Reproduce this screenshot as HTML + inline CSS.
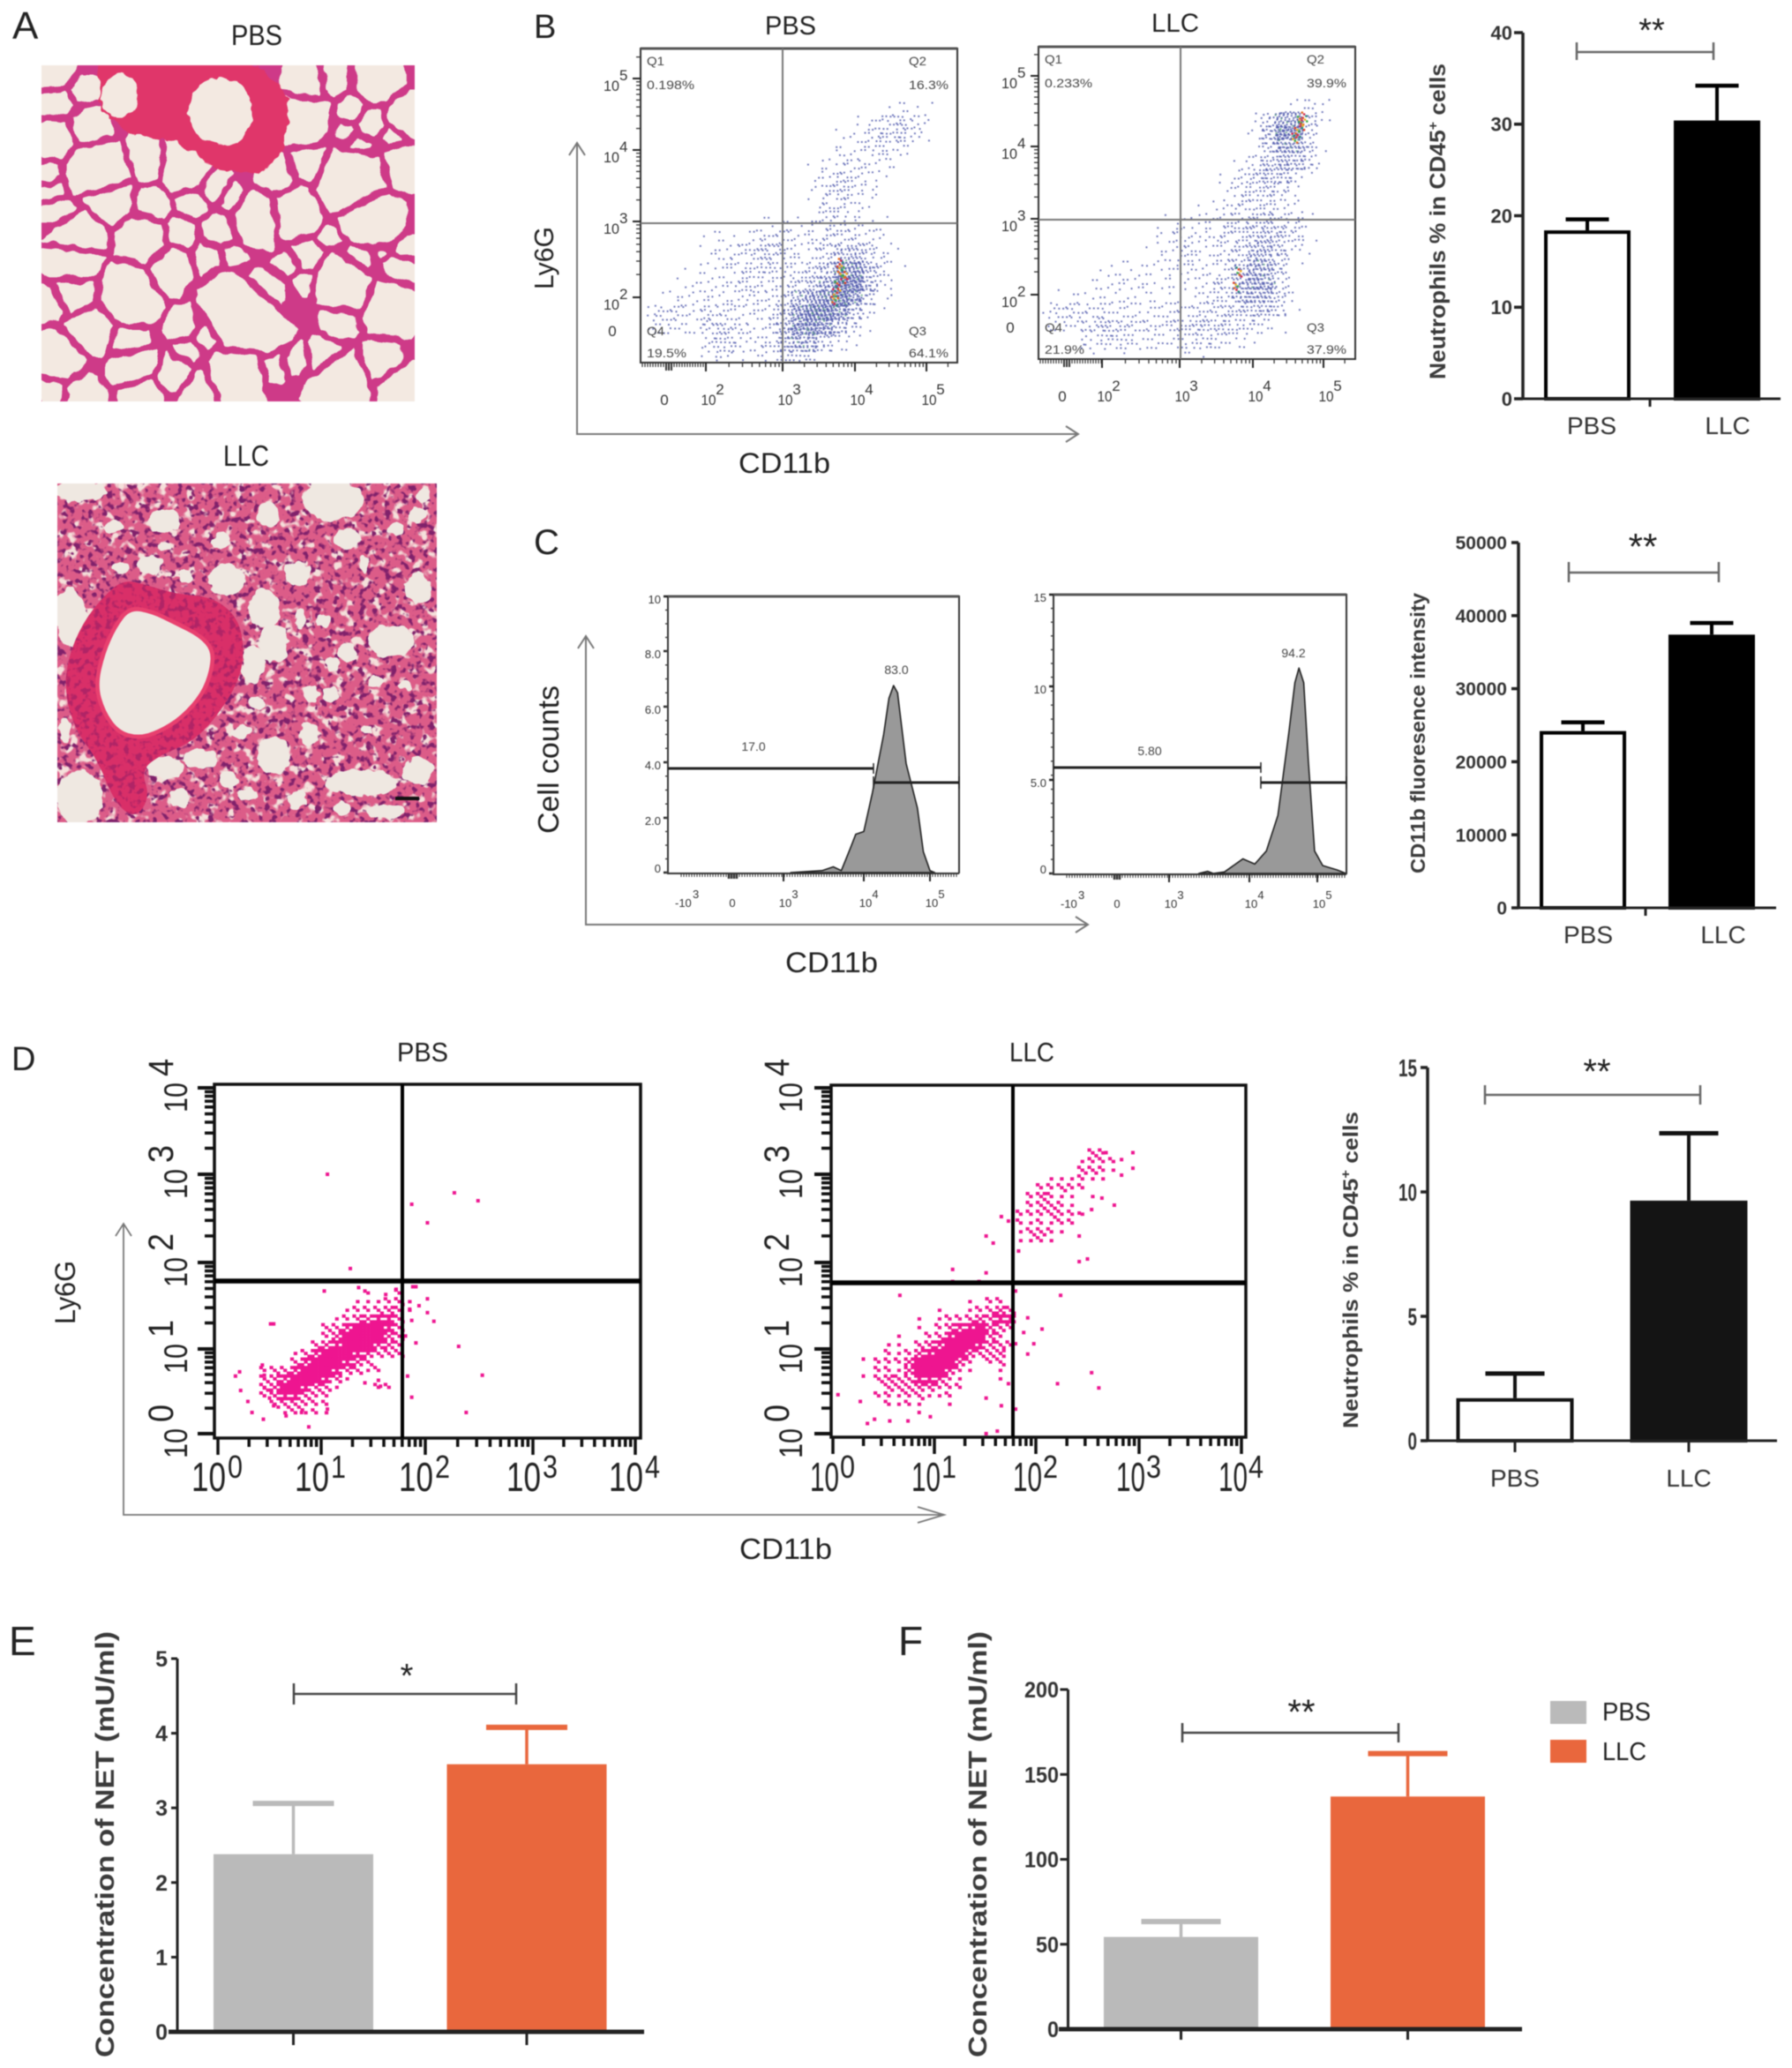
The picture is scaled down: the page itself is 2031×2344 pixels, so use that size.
<!DOCTYPE html>
<html lang="en">
<head>
<meta charset="utf-8">
<title>Neutrophil flow cytometry and NET concentration figure</title>
<style>
html,body{margin:0;padding:0;background:#fff;width:2031px;height:2344px;overflow:hidden}
svg{display:block;filter:blur(.55px)}
text{font-family:"Liberation Sans",sans-serif;fill:#222}
.axt{font-weight:700;fill:#3a3a3a}
</style>
</head>
<body>
<svg id="figure" xmlns="http://www.w3.org/2000/svg" width="2031" height="2344" viewBox="0 0 2031 2344">
<defs>
<filter id="rough" x="-5%" y="-5%" width="110%" height="110%" color-interpolation-filters="sRGB"><feTurbulence type="fractalNoise" baseFrequency="0.022" numOctaves="2" seed="4" result="n"/><feDisplacementMap in="SourceGraphic" in2="n" scale="26" xChannelSelector="R" yChannelSelector="G"/></filter>
<filter id="rough2" x="-5%" y="-5%" width="110%" height="110%" color-interpolation-filters="sRGB"><feTurbulence type="fractalNoise" baseFrequency="0.03" numOctaves="2" seed="9" result="n"/><feDisplacementMap in="SourceGraphic" in2="n" scale="30" xChannelSelector="R" yChannelSelector="G"/></filter>
<filter id="nuclei" x="0" y="0" width="100%" height="100%" color-interpolation-filters="sRGB"><feTurbulence type="fractalNoise" baseFrequency="0.14" numOctaves="2" seed="8"/><feColorMatrix values="0 0 0 0 .50  0 0 0 0 .13  0 0 0 0 .42  7 0 0 0 -3.75"/></filter>
<filter id="nuclei-wall" x="0" y="0" width="100%" height="100%" color-interpolation-filters="sRGB"><feTurbulence type="fractalNoise" baseFrequency="0.05" numOctaves="2" seed="13"/><feColorMatrix values="0 0 0 0 .58  0 0 0 0 .12  0 0 0 0 .40  7 0 0 0 -3.6"/></filter>
<filter id="specks" x="0" y="0" width="100%" height="100%" color-interpolation-filters="sRGB"><feTurbulence type="fractalNoise" baseFrequency="0.09" numOctaves="2" seed="21"/><feColorMatrix values="0 0 0 0 .96  0 0 0 0 .88  0 0 0 0 .86  0 7 0 0 -3.9"/></filter>
<clipPath id="clip-a1"><rect x="47" y="74" width="423" height="381"/></clipPath>
<clipPath id="clip-a2"><rect x="65" y="548" width="430" height="384"/></clipPath>
</defs>

<text x="14" y="44" font-size="44">A</text>
<text x="605" y="43" font-size="38">B</text>
<text x="605" y="628" font-size="40">C</text>
<text x="13" y="1213" font-size="38">D</text>
<text x="10" y="1876" font-size="46">E</text>
<text x="1018" y="1876" font-size="46">F</text>

<!-- Panel A -->
<text x="262" y="51" font-size="32" textLength="58" lengthAdjust="spacingAndGlyphs">PBS</text>
<text x="253" y="528" font-size="33" textLength="52" lengthAdjust="spacingAndGlyphs">LLC</text>
<g id="histology-pbs" clip-path="url(#clip-a1)">
  <rect x="47" y="74" width="423" height="381" fill="#ce3a88"/>
  <g id="pbs-inner" transform="translate(47 74) scale(.3828) translate(-122 -193)"></g>
</g>
<g id="histology-llc" clip-path="url(#clip-a2)">
  <rect x="65" y="548" width="430" height="384" fill="#dc5c88"/>
  <rect x="65" y="548" width="430" height="384" filter="url(#specks)"/>
  <rect x="65" y="548" width="430" height="384" filter="url(#nuclei)"/>
  <g id="llc-inner" transform="translate(60 540) scale(.33333)"></g>
  <rect x="448" y="903" width="27" height="4" fill="#111"/>
</g>

<!-- Panel B -->
<text x="867" y="39" font-size="30" textLength="58" lengthAdjust="spacingAndGlyphs">PBS</text>
<text x="1305" y="36" font-size="30" textLength="54" lengthAdjust="spacingAndGlyphs">LLC</text>
<g id="flow-b1"></g>
<g id="flow-b2"></g>
<path d="M654 162V492H1222M645 176L654 162L663 176M1208 483L1222 492L1208 501" fill="none" stroke="#777" stroke-width="2"/>
<text transform="translate(627 328) rotate(-90)" font-size="31" textLength="71" lengthAdjust="spacingAndGlyphs">Ly6G</text>
<text x="837" y="536" font-size="32" textLength="104" lengthAdjust="spacingAndGlyphs">CD11b</text>

<g id="bar-b"></g>
<path d="M1787 48V68M1787 59H1942M1942 48V68" fill="none" stroke="#666" stroke-width="2.5"/>
<text x="1872" y="47" font-size="38" text-anchor="middle">**</text>
<text class="axt" transform="translate(1638 430) rotate(-90)" font-size="25" textLength="358" lengthAdjust="spacingAndGlyphs">Neutrophils % in CD45<tspan dy="-9" font-size="15">+</tspan><tspan dy="9"> cells</tspan></text>

<!-- Panel C -->
<g id="hist-c1"></g>
<g id="hist-c2"></g>
<path d="M664 721V1048H1233M655 735L664 721L673 735M1219 1039L1233 1048L1219 1057" fill="none" stroke="#777" stroke-width="2"/>
<text transform="translate(633 945) rotate(-90)" font-size="33" textLength="168" lengthAdjust="spacingAndGlyphs">Cell counts</text>
<text x="890" y="1102" font-size="32" textLength="105" lengthAdjust="spacingAndGlyphs">CD11b</text>

<g id="bar-c"></g>
<path d="M1778 637V660M1778 649H1948M1948 637V660" fill="none" stroke="#666" stroke-width="2.5"/>
<text x="1862" y="634" font-size="42" text-anchor="middle">**</text>
<text class="axt" transform="translate(1615 990) rotate(-90)" font-size="23" textLength="318" lengthAdjust="spacingAndGlyphs">CD11b fluoresence intensity</text>

<!-- Panel D -->
<text x="450" y="1203" font-size="31" textLength="58" lengthAdjust="spacingAndGlyphs">PBS</text>
<text x="1144" y="1203" font-size="31" textLength="51" lengthAdjust="spacingAndGlyphs">LLC</text>
<g id="flow-d1"></g>
<g id="flow-d2"></g>
<path d="M140 1387V1717H1070M131 1401L140 1387L149 1401M1040 1708L1070 1717L1040 1726" fill="none" stroke="#777" stroke-width="1.8"/>
<text transform="translate(85 1501) rotate(-90)" font-size="32" textLength="72" lengthAdjust="spacingAndGlyphs">Ly6G</text>
<text x="838" y="1767" font-size="33" textLength="105" lengthAdjust="spacingAndGlyphs">CD11b</text>

<g id="bar-d"></g>
<path d="M1683 1230V1252M1683 1241H1927M1927 1230V1252" fill="none" stroke="#666" stroke-width="2.5"/>
<text x="1810" y="1228" font-size="40" text-anchor="middle">**</text>
<text class="axt" transform="translate(1539 1619) rotate(-90)" font-size="24" textLength="359" lengthAdjust="spacingAndGlyphs">Neutrophils % in CD45<tspan dy="-9" font-size="15">+</tspan><tspan dy="9"> cells</tspan></text>

<!-- Panel E -->
<g id="bar-e"></g>
<path d="M333 1908V1932M333 1920H585M585 1908V1932" fill="none" stroke="#444" stroke-width="2.5"/>
<text x="461" y="1912" font-size="38" text-anchor="middle">*</text>
<text class="axt" transform="translate(129 2332) rotate(-90)" font-size="30" textLength="483" lengthAdjust="spacingAndGlyphs">Concentration of NET (mU/ml)</text>

<!-- Panel F -->
<g id="bar-f"></g>
<path d="M1340 1953V1975M1340 1964H1585M1585 1953V1975" fill="none" stroke="#444" stroke-width="2.5"/>
<text x="1475" y="1954" font-size="40" text-anchor="middle">**</text>
<text class="axt" transform="translate(1118 2332) rotate(-90)" font-size="29" textLength="483" lengthAdjust="spacingAndGlyphs">Concentration of NET (mU/ml)</text>
<rect x="1757" y="1928" width="41" height="26" fill="#bababa"/>
<text x="1816" y="1950" font-size="29" textLength="55" lengthAdjust="spacingAndGlyphs">PBS</text>
<rect x="1757" y="1972" width="41" height="26" fill="#e9673d"/>
<text x="1816" y="1995" font-size="29" textLength="50" lengthAdjust="spacingAndGlyphs">LLC</text>
</svg>

<script>
/* ---------- bar chart data ---------- */
const barCategories = ['PBS', 'LLC'];
const barBMeans = [18.4, 30.4];
const barBUpper = [19.6, 34.2];
const barBTicks = [0, 10, 20, 30, 40];
const barCMeans = [24200, 37400];
const barCUpper = [25400, 39000];
const barCTicks = [0, 10000, 20000, 30000, 40000, 50000];
const barDMeans = [1.71, 9.65];
const barDUpper = [2.7, 12.36];
const barDTicks = [0, 5, 10, 15];
const barEMeans = [2.38, 3.585];
const barEUpper = [3.06, 4.08];
const barETicks = [0, 1, 2, 3, 4, 5];
const barFMeans = [54.3, 137];
const barFUpper = [63.4, 162.3];
const barFTicks = [0, 50, 100, 150, 200];

/* ---------- histogram data: x = log10 fluorescence, y = counts ---------- */
const histPbsX = [3.09,3.48,3.62,3.72,3.83,3.90,4.00,4.13,4.30,4.38,4.45,4.51,4.64,4.81,4.90,5.00,5.07];
const histPbsY = [0,0.07,0.21,0.07,0.87,1.40,1.50,2.90,5.00,6.30,6.76,6.50,3.95,2.36,0.76,0.07,0];
const histLlcX = [3.37,3.48,3.55,3.69,3.92,4.08,4.25,4.42,4.58,4.67,4.73,4.80,4.87,4.96,5.08,5.29,5.42];
const histLlcY = [0,0.11,0,0.08,0.78,0.50,1.20,3.10,7.50,10.20,11.00,10.20,5.90,1.20,0.42,0.19,0];
const histPbsYTicks = ['0','2.0','4.0','6.0','8.0','10'];
const histPbsYValues = [0,2,4,6,8,10];
const histLlcYTicks = ['0','5.0','10','15'];
const histLlcYValues = [0,5,10,15];
const histXExponents = [3,4,5];
const histGatePbs = ['17.0','83.0'];
const histGateLlc = ['5.80','94.2'];

/* ---------- panel B density counts (rows high to low, columns in 0.2 decade bins) ---------- */
const densityBPbs = [
"00000000000000001110",
"00000000000000123310",
"00000000000001122100",
"00000000000011111000",
"00000000000112110000",
"00000000000122100000",
"00000000000122100000",
"00000000000121000000",
"00000001111121110000",
"00001112221122210000",
"00001123311235421000",
"00011122112359520000",
"00111121123469410000",
"01111111236785210000",
"23213211248853100000",
"00003312256421000000",
"00002101233100000000",
"00001100110000000000"
];
const densityBLlc = [
"00000000000000000220",
"00000000000000159300",
"00000000000000146300",
"00000000000000134410",
"00000000000001343100",
"00000000000012321000",
"00000000000012221000",
"00000000001112211000",
"00000000120122332100",
"00000000121122342100",
"00000001121123531000",
"00001111111124630000",
"00011111001235520000",
"01100100101123441000",
"13232212223323210000",
"00033222223221000000",
"00011100011000000000"
];
const hotSpotBPbsX = [3.78,3.82,3.75,3.80,3.72,3.85,3.70];
const hotSpotBPbsY = [2.35,2.25,2.15,2.45,2.05,2.30,1.95];
const hotSpotBLlcX = [4.62,4.68,4.66,4.72,4.58,3.80,3.76];
const hotSpotBLlcY = [4.20,4.30,4.36,4.42,4.12,2.30,2.10];
const bYExponents = [2,3,4,5];
const bXExponents = [2,3,4,5];
const bQuadPbs = ['Q1','0.198%','Q2','16.3%','Q4','19.5%','Q3','64.1%'];
const bQuadLlc = ['Q1','0.233%','Q2','39.9%','Q4','21.9%','Q3','37.9%'];

/* ---------- panel D binned pink events (counts per 0.1 decade cell) and single events (decades) ---------- */
const densityDPbsCore = [
"000000000000100200",
"000000000001112310",
"000000000012234210",
"000000000124577300",
"000000003368987300",
"000000002589985300",
"000000035789865200",
"000001368887633300",
"000003689875300000",
"002336899743120000",
"003468997410000000",
"003588743100022000",
"002477322000000000",
"000333222000000000",
"000012221000000000"
];
const sparseDPbsX = [1.06,1.28,1.87,2.02,2.27,2.49,1.03,1.36,1.42,1.62,1.72,1.88,1.91,2.02,1.94,1.85,2.02,2.08,1.87,1.81,1.91,2.31,2.53,1.83,1.87,2.38,1.55,1.42,1.57,0.21,0.17,0.22,0.29,0.33,0.44,0.66,0.88,0.81,1.06,0.54,0.51,0.54,0.43,0.45,0.45,0.50];
const sparseDPbsY = [3.00,1.93,2.66,2.45,2.79,2.70,1.67,1.71,1.67,1.63,1.69,1.72,1.72,1.58,1.50,1.46,1.42,1.32,1.33,1.15,1.07,1.03,0.69,0.68,0.43,0.25,0.63,0.60,0.56,0.73,0.68,0.51,0.38,0.25,0.17,0.21,0.08,0.25,0.29,1.29,1.29,0.33,0.81,0.69,0.54,0.42];
const densityDLlcCore = [
"000000000102200",
"000000100123530",
"000010122354770",
"000010246785320",
"001002378984200",
"011034689874320",
"021257898533400",
"222599985202300",
"221599862100100",
"343377621000100",
"033344222000000",
"221231120000000",
"021210010000000"
];
const densityDLlcUpper = [
"000000032000",
"000000122200",
"000000332100",
"000111211000",
"002232200000",
"024211010000",
"023321000000",
"222322100000",
"212122000000",
"133210000000",
"112100000000"
];
const sparseDLlcX = [0.05,0.27,0.34,0.41,0.56,0.74,0.85,0.96,0.30,0.30,0.66,1.18,1.18,1.44,1.51,1.58,1.51,1.66,1.73,1.51,1.66,1.73,1.80,1.51,1.62,1.80,1.80,1.88,1.92,2.06,1.98,1.92,2.24,2.21,2.54,2.61,2.42,2.50,1.83,2.76,2.94,2.94,2.83,2.83,2.68,2.64,2.54,2.42,2.42];
const sparseDLlcY = [0.46,0.38,0.12,0.17,0.15,0.15,0.25,0.20,0.88,0.68,1.62,1.92,1.78,1.78,1.88,2.22,2.30,2.52,2.47,0.42,0.33,0.59,0.29,0.00,0.03,1.67,1.06,1.19,1.36,1.23,1.06,0.94,1.62,0.59,0.72,0.54,2.01,2.04,2.13,2.65,3.25,3.07,3.17,2.99,3.25,2.73,2.60,2.56,2.30];
const dExponents = [0,1,2,3,4];

/* ---------- histology blobs (decorative tissue image stand-in) ---------- */
const pbsAlveoli = [[170,225,35,30],[240,265,30,22],[175,305,35,35],[260,380,40,40],[165,410,40,50],[150,520,25,30],[300,520,70,100],[890,340,50,80],[1040,320,30,35],[1100,360,30,40],[1025,385,25,20],[1060,425,25,15],[1000,240,40,30],[1100,240,60,40],[900,250,40,40],[1190,350,28,50],[1155,400,20,20],[1185,500,40,40],[1040,540,100,90],[1090,640,70,60],[910,490,30,50],[815,520,35,60],[545,490,50,70],[430,480,35,50],[640,560,30,35],[570,600,30,30],[680,585,25,30],[440,600,35,40],[760,640,50,80],[870,630,55,80],[530,690,30,30],[650,680,30,35],[420,710,70,50],[230,690,70,60],[500,800,50,50],[620,770,35,30],[690,760,25,25],[910,750,35,45],[850,785,25,25],[970,700,30,25],[1065,760,25,25],[1200,735,20,20],[1120,750,12,12],[220,780,70,50],[180,620,50,20],[320,590,60,60],[160,560,40,20],[380,870,70,80],[720,930,110,120],[790,850,30,30],[1010,840,90,70],[1150,900,50,70],[1180,800,40,25],[900,830,20,30],[1000,950,40,30],[540,955,35,35],[610,1000,25,30],[220,870,60,50],[150,900,30,40],[270,970,60,50],[170,1060,50,60],[380,1010,35,35],[395,1080,50,50],[520,1100,40,35],[560,1040,30,20],[700,1110,90,60],[800,1085,25,25],[880,1060,22,30],[950,1050,30,40],[1000,1120,70,50],[1130,1070,30,50],[1180,1140,40,40],[420,1160,40,25],[590,1150,40,30],[160,1150,20,20],[250,1160,40,30]];
const llcPatches = [[90,50,85,32],[950,80,90,65],[1260,60,24,22],[60,480,50,90],[40,860,15,40],[90,1090,72,85],[590,350,55,50],[830,330,40,40],[1240,380,40,50],[1150,560,70,50],[720,450,50,60],[750,570,45,60],[680,640,35,60],[380,150,50,35],[330,300,35,30],[230,310,25,20],[210,170,30,20],[380,240,20,15],[570,220,30,25],[730,130,35,40],[1000,210,40,35],[1170,180,25,20],[1240,130,30,25],[450,340,20,20],[940,740,25,25],[690,770,25,20],[1000,600,30,30],[920,490,25,20],[750,950,50,60],[500,960,50,30],[380,990,60,35],[1050,1040,110,40],[430,1090,30,30],[600,1030,30,25],[660,1080,30,20],[830,1100,30,30],[1130,1140,60,20],[1240,1000,50,40],[980,1130,30,20],[870,880,30,40],[640,870,30,20],[1100,700,20,20],[1200,710,20,15],[1070,860,20,15],[880,740,20,30],[950,640,20,20],[840,480,15,30],[1060,300,15,30]];
const llcWallOutline = [[240,350],[320,370],[420,400],[540,410],[620,470],[650,560],[640,680],[570,800],[480,900],[360,950],[300,1000],[330,1090],[280,1165],[210,1110],[150,960],[80,870],[40,740],[50,620],[100,500],[170,410]];
const llcLumenOutline = [[260,445],[340,460],[420,500],[500,540],[545,590],[540,660],[510,740],[440,820],[360,870],[290,890],[220,870],[170,800],[145,710],[170,600],[210,510]];

const NS = 'http://www.w3.org/2000/svg';
function mk(tag, attrs, parent) {
  const el = document.createElementNS(NS, tag);
  for (const k in attrs) el.setAttribute(k, attrs[k]);
  parent.appendChild(el);
  return el;
}
function txt(parent, str, x, y, o) {
  o = o || {};
  const a = { 'font-size': o.size || 14 };
  if (o.rot) { a.transform = 'translate(' + x + ' ' + y + ') rotate(-90)'; }
  else { a.x = x; a.y = y; }
  if (o.anchor) a['text-anchor'] = o.anchor;
  if (o.weight) a['font-weight'] = o.weight;
  if (o.len) { a.textLength = o.len; a.lengthAdjust = 'spacingAndGlyphs'; }
  const el = mk('text', a, parent);
  if (o.fill) el.style.fill = o.fill;
  el.textContent = str;
  return el;
}
function piecewise(vals, px) {
  return function (v) {
    let i = 0;
    while (i < vals.length - 2 && v > vals[i + 1]) i++;
    return px[i] + (v - vals[i]) * (px[i + 1] - px[i]) / (vals[i + 1] - vals[i]);
  };
}
function line(parent, x1, y1, x2, y2, stroke, w) {
  return mk('line', { x1: x1, y1: y1, x2: x2, y2: y2, stroke: stroke, 'stroke-width': w }, parent);
}

/* ---------- bar chart ---------- */
function barChart(id, means, upper, ticks, L) {
  const g = document.getElementById(id);
  const y = function (v) { return L.y0 - v / L.max * (L.y0 - L.yTop); };
  const cx = function (i) { return L.first + i * L.step; };
  means.forEach(function (m, i) {
    const fill = L.fills[i], ec = L.edges[i], ew = L.barStroke;
    const bar = mk('rect', { x: cx(i) - L.barW / 2 + ew / 2, y: y(m) + ew / 2, width: L.barW - ew, height: y(0) - y(m) - ew / 2, fill: fill, stroke: ec, 'stroke-width': ew }, g);
    
    
    const stem = line(g, cx(i), y(m), cx(i), y(upper[i]), L.errs[i], L.stemW);
    
    
    const cap = line(g, cx(i) - L.capW / 2, y(upper[i]), cx(i) + L.capW / 2, y(upper[i]), L.errs[i], L.capH);
    
    
  });
  const ya = line(g, L.axisX, y(0), L.axisX, y(ticks[ticks.length - 1]), '#222', L.axisW);
  
  
  const xa = line(g, L.xMin, y(0), L.xMax, y(0), '#222', L.xAxisW);
  
  
  ticks.forEach(function (t) {
    const m = line(g, L.axisX - L.tickLen, y(t), L.axisX, y(t), '#222', L.axisW);
    
    
    const s = String(t);
    const lab = txt(g, s, L.labelX, y(t) + L.size * 0.36, { size: L.size, anchor: 'end', weight: 700, fill: '#333', len: L.charW ? L.charW * s.length : null });
    
    
  });
  const xt = L.midTick ? [L.midTick] : means.map(function (m, i) { return cx(i); });
  xt.forEach(function (px) {
    const m = line(g, px, y(0), px, y(0) + L.xTick, '#222', 3);
    
    
  });
  if (L.catFirst) {
    barCategories.forEach(function (c, i) {
      const lab = txt(g, c, L.catFirst + i * L.catStep, L.catY, { size: 28, anchor: 'middle', fill: '#333' });
      
      
    });
  }
}
barChart('bar-b', barBMeans, barBUpper, barBTicks, { axisX: 1726, y0: 452, yTop: 37, max: 40, first: 1799, step: 147, barW: 98, fills: ['#fff', '#000'], edges: ['#000', '#000'], errs: ['#000', '#000'], barStroke: 4, stemW: 4, capW: 49, capH: 4.5, axisW: 3.5, xAxisW: 3, xMin: 1717, xMax: 2018, tickLen: 10, labelX: 1714, size: 22, midTick: 1870, xTick: 9, catFirst: 1804, catStep: 154, catY: 492 });
barChart('bar-c', barCMeans, barCUpper, barCTicks, { axisX: 1721, y0: 1029, yTop: 615, max: 50000, first: 1794, step: 146, barW: 98, fills: ['#fff', '#000'], edges: ['#000', '#000'], errs: ['#000', '#000'], barStroke: 4, stemW: 4, capW: 49, capH: 4.5, axisW: 3.5, xAxisW: 3, xMin: 1713, xMax: 2013, tickLen: 8, labelX: 1708, size: 21, midTick: 1865, xTick: 9, catFirst: 1800, catStep: 153, catY: 1069 });
barChart('bar-d', barDMeans, barDUpper, barDTicks, { axisX: 1618, y0: 1633, yTop: 1210, max: 15, first: 1717, step: 197, barW: 133, fills: ['#fff', '#141414'], edges: ['#111', '#141414'], errs: ['#111', '#111'], barStroke: 4, stemW: 4, capW: 67, capH: 5, axisW: 3.5, xAxisW: 3, xMin: 1610, xMax: 2014, tickLen: 8, labelX: 1606, size: 28, charW: 10.5, xTick: 13, catFirst: 1717, catStep: 197, catY: 1685 });
barChart('bar-e', barEMeans, barEUpper, barETicks, { axisX: 201, y0: 2303, yTop: 1880, max: 5, first: 332.5, step: 264.5, barW: 181, fills: ['#bababa', '#e9673d'], edges: ['#bababa', '#e9673d'], errs: ['#bababa', '#e9673d'], barStroke: 0, stemW: 3.5, capW: 92, capH: 6, axisW: 3, xAxisW: 5, xMin: 191, xMax: 730, tickLen: 7, labelX: 190, size: 25, xTick: 15 });
barChart('bar-f', barFMeans, barFUpper, barFTicks, { axisX: 1210.5, y0: 2300, yTop: 1915, max: 200, first: 1338.5, step: 257, barW: 175, fills: ['#bababa', '#e9673d'], edges: ['#bababa', '#e9673d'], errs: ['#bababa', '#e9673d'], barStroke: 0, stemW: 3.5, capW: 90, capH: 6, axisW: 3, xAxisW: 5, xMin: 1200, xMax: 1725, tickLen: 9, labelX: 1200, size: 25, charW: 13, xTick: 12 });

/* ---------- histogram ---------- */
function histogram(id, xs, ys, yTickLabels, yTickVals, gateLabels, L) {
  const g = document.getElementById(id);
  const X = piecewise(histXExponents, L.xPx);
  const Y = piecewise(yTickVals, L.yPx);
  let d = 'M' + X(xs[0]) + ' ' + Y(0);
  xs.forEach(function (v, i) { d += 'L' + X(v) + ' ' + Y(ys[i]); });
  d += 'L' + X(xs[xs.length - 1]) + ' ' + Y(0) + 'Z';
  const area = mk('path', { d: d, fill: '#999', stroke: '#222', 'stroke-width': 1.6, 'stroke-linejoin': 'round' }, g);
  
  
  const f = mk('path', { d: 'M' + L.l + ' ' + L.t + 'H' + L.r + 'V' + L.b + 'M' + L.l + ' ' + L.t + 'V' + L.b + 'H' + L.r, fill: 'none', stroke: '#333', 'stroke-width': 2 }, g);
  
  
  const topEdge = line(g, L.l, L.t, L.r, L.t, '#555', 3);
  
  
  yTickLabels.forEach(function (s, i) {
    const py = Y(yTickVals[i]);
    const t = line(g, L.l - 5, py, L.l, py, '#222', 2.5);
    
    
    const lab = txt(g, s, L.l - 8, py + (yTickVals[i] === 0 ? 0 : 8), { size: 13, anchor: 'end', fill: '#333' });
    
    
  });
  const yMax = yTickVals[yTickVals.length - 1];
  for (let v = 0; v < yMax; v += yMax / 20) {
    const t = line(g, L.l - 3, Y(v), L.l, Y(v), '#444', 1.5);
    
    
  }
  for (let px = L.negPx; px < L.r; px += 3) {
    const nearZero = px > L.zeroPx - 6 && px < L.zeroPx + 6;
    const t = line(g, px, L.b, px, L.b + (nearZero ? 6 : 4), '#333', nearZero ? 2.5 : 1);
    
    
  }
  const neg = txt(g, '-10', L.negPx - 7, L.b + 38, { size: 13, fill: '#333', anchor: 'start' });
  
  
  const negE = txt(g, '3', L.negPx + 13, L.b + 28, { size: 13, fill: '#333' });
  
  
  const zero = txt(g, '0', L.zeroPx, L.b + 38, { size: 13, anchor: 'middle', fill: '#333' });
  
  
  histXExponents.forEach(function (ex) {
    const px = X(ex);
    const t = line(g, px, L.b, px, L.b + 9, '#222', 2);
    
    
    const a = txt(g, '10', px + 2, L.b + 38, { size: 13, anchor: 'middle', fill: '#333' });
    
    
    const b = txt(g, String(ex), px + 13, L.b + 28, { size: 13, anchor: 'middle', fill: '#333' });
    
    
  });
  const gl = line(g, L.l, L.gateLeftY, L.gateX, L.gateLeftY, '#222', 3);
  
  
  const gr = line(g, L.gateX, L.gateRightY, L.r, L.gateRightY, '#222', 3);
  
  
  const gt = mk('path', { d: 'M' + L.gateX + ' ' + (L.gateLeftY - 6) + 'V' + (L.gateLeftY + 6) + 'M' + L.gateX + ' ' + (L.gateRightY - 7) + 'V' + (L.gateRightY + 7) + 'M' + L.r + ' ' + (L.gateRightY - 7) + 'V' + (L.gateRightY + 7), stroke: '#222', 'stroke-width': 1.5, fill: 'none' }, g);
  
  
  const l1 = txt(g, gateLabels[0], L.gateLabelX[0], L.gateLabelY[0], { size: 14, anchor: 'middle', fill: '#444' });
  
  
  const l2 = txt(g, gateLabels[1], L.gateLabelX[1], L.gateLabelY[1], { size: 14, anchor: 'middle', fill: '#444' });
  
  
}
histogram('hist-c1', histPbsX, histPbsY, histPbsYTicks, histPbsYValues, histGatePbs, { xPx: [888, 979, 1054], yPx: [989, 927, 864, 801, 738, 676], l: 757, r: 1087, t: 676, b: 990, negPx: 772, zeroPx: 830, gateX: 990, gateLeftY: 871, gateRightY: 887, gateLabelX: [854, 1016], gateLabelY: [851, 764] });
histogram('hist-c2', histLlcX, histLlcY, histLlcYTicks, histLlcYValues, histGateLlc, { xPx: [1325, 1416, 1493], yPx: [990, 884, 778, 674], l: 1194, r: 1526, t: 674, b: 991, negPx: 1209, zeroPx: 1266, gateX: 1429, gateLeftY: 870, gateRightY: 887, gateLabelX: [1303, 1466], gateLabelY: [856, 745] });

/* ---------- panel B flow plots ---------- */
const frac = function (v) { return v - Math.floor(v); };
function flowB(id, rows, hotX, hotY, quad, L) {
  const g = document.getElementById(id);
  const X = piecewise(bXExponents, L.xPx);
  const Y = piecewise(bYExponents, L.yPx);
  const hot = ['#e0402a', '#f0b020', '#3faa4a', '#e86a20', '#d02a50', '#2a8a7a'];
  rows.forEach(function (row, r) {
    const yStart = 4.4 - r * 0.2;
    row.split('').forEach(function (ch, c) {
      const digit = +ch;
      const xStart = 1.2 + c * 0.2;
      const count = Math.round(digit * digit * 0.7 + digit * 4);
      for (let i = 0; i < count; i++) {
        const u = frac(i * 0.7549 + c * 0.37 + r * 0.13), v = frac(i * 0.5698 + r * 0.61 + c * 0.29);
        const px = X(xStart + (u * 2 - 0.5) * 0.2), py = Y(yStart + (v * 2 - 0.5) * 0.2);
        if (px < L.l + 2 || px > L.r - 3 || py < L.t + 2 || py > L.b - 3) continue;
        const dot = mk('rect', { x: px, y: py, width: 2, height: 2, fill: (digit >= 6 && i % 9 === 0) ? '#4f9a78' : '#3c46a4', 'fill-opacity': 0.72 }, g);
        
        
      }
    });
  });
  hotX.forEach(function (v, i) {
    for (let k = 0; k < 6; k++) {
      const dot = mk('rect', { x: X(v) - 3 + (k * 2.3) % 6, y: Y(hotY[i]) - 6 + k * 2, width: 2.4, height: 2.4, fill: hot[(i + k) % 6] }, g);
      
      
    }
  });
  const frame = mk('rect', { x: L.l, y: L.t, width: L.r - L.l, height: L.b - L.t, fill: 'none', stroke: '#333', 'stroke-width': 2 }, g);
  
  
  const topEdge = line(g, L.l, L.t, L.r, L.t, '#555', 3);
  
  
  const v = line(g, L.qx, L.t, L.qx, L.b, '#777', 2);
  
  
  const h = line(g, L.l, L.qy, L.r, L.qy, '#777', 2);
  
  
  bXExponents.forEach(function (ex) {
    const px = X(ex);
    const t = line(g, px, L.b, px, L.b + 10, '#222', 2);
    
    
    for (let m = 2; m < 10; m++) {
      const mp = X(ex + Math.log10(m));
      if (mp < L.r) {
        const s = line(g, mp, L.b, mp, L.b + 5, '#333', 1.3);
        
        
      }
    }
    const a = txt(g, '10', px + 3, L.b + 48, { size: 17, anchor: 'middle', fill: '#333', len: 17 });
    
    
    const b = txt(g, String(ex), px + 16, L.b + 36, { size: 17, anchor: 'middle', fill: '#333' });
    
    
  });
  for (let px = L.l + 2; px < X(2); px += 3) {
    const near = Math.abs(px - L.zeroX - 6) < 5;
    const s = line(g, px, L.b, px, L.b + (near ? 9 : 5), '#333', near ? 2 : 1.2);
    
    
  }
  const zx = txt(g, '0', L.zeroX, L.b + 48, { size: 17, anchor: 'middle', fill: '#333' });
  
  
  bYExponents.forEach(function (ex) {
    const py = Y(ex);
    const t = line(g, L.l - 9, py, L.l, py, '#222', 2);
    
    
    for (let m = 2; m < 10; m++) {
      const mp = Y(ex + Math.log10(m));
      if (mp > L.t) {
        const s = line(g, L.l - 5, mp, L.l, mp, '#333', 1.3);
        
        
      }
    }
    const a = txt(g, '10', L.l - 24, py + 14, { size: 17, anchor: 'end', fill: '#333', len: 18 });
    
    
    const b = txt(g, String(ex), L.l - 24, py + 2, { size: 17, fill: '#333' });
    
    
  });
  const zy = txt(g, '0', L.l - 32, L.zeroY + 6, { size: 17, anchor: 'middle', fill: '#333' });
  
  
  const qx = [L.l + 7, L.l + 7, L.r - 55, L.r - 55, L.l + 7, L.l + 7, L.r - 55, L.r - 55];
  const qy = [L.t + 19, L.t + 46, L.t + 19, L.t + 46, L.b - 31, L.b - 6, L.b - 31, L.b - 6];
  quad.forEach(function (s, i) {
    const lab = txt(g, s, qx[i], qy[i], { size: 14, fill: '#444', len: s.length > 2 ? s.length * 9 : 20 });
    
    
  });
}
flowB('flow-b1', densityBPbs, hotSpotBPbsX, hotSpotBPbsY, bQuadPbs, { xPx: [800, 887, 969, 1050], yPx: [337, 251, 170, 89], l: 726, r: 1085, t: 55, b: 411, qx: 887, qy: 253, zeroX: 753, zeroY: 375 });
flowB('flow-b2', densityBLlc, hotSpotBLlcX, hotSpotBLlcY, bQuadLlc, { xPx: [1249, 1337, 1420, 1500], yPx: [334, 248, 166, 86], l: 1177, r: 1536, t: 53, b: 407, qx: 1338, qy: 249, zeroX: 1204, zeroY: 371 });

/* ---------- panel D flow plots ---------- */
const subCellOrder = [4, 0, 8, 2, 6, 1, 7, 3, 5];
function drawDensity(g, rows, xStart, yStart, X, Y) {
  rows.forEach(function (row, r) {
    row.split('').forEach(function (ch, c) {
      const raw = +ch;
      const n = raw >= 8 ? 9 : raw;
      for (let i = 0; i < n; i++) {
        const idx = subCellOrder[i];
        const u = (idx % 3) / 3, v = Math.floor(idx / 3) / 3;
        const x0 = X(xStart + c * 0.1 + u * 0.1), y0 = Y(yStart - r * 0.1 + (1 - v) * 0.1);
        const dot = mk('rect', { x: x0, y: y0, width: 4.2, height: 3.8, fill: '#ee1590' }, g);
        
        
      }
    });
  });
}
function flowD(id, grids, sparseX, sparseY, L) {
  const g = document.getElementById(id);
  const X = piecewise(dExponents, L.xPx);
  const Y = piecewise(dExponents, L.yPx);
  grids.forEach(function (gd) { drawDensity(g, gd.rows, gd.x, gd.y, X, Y); });
  sparseX.forEach(function (v, i) {
    const dot = mk('rect', { x: X(v) - 2, y: Y(sparseY[i]) - 2, width: 4, height: 4, fill: '#ee1590' }, g);
    
    
  });
  const frame = mk('rect', { x: L.l, y: L.t, width: L.r - L.l, height: L.b - L.t, fill: 'none', stroke: '#111', 'stroke-width': 3.5 }, g);
  
  
  const v = line(g, L.qx, L.t, L.qx, L.b, '#000', 4);
  
  
  const h = line(g, L.l, L.qy, L.r, L.qy, '#000', 5.5);
  
  
  dExponents.forEach(function (ex) {
    const px = X(ex), py = Y(ex);
    const tx = line(g, px, L.b, px, L.b + 19, '#111', 3.5);
    
    
    const ty = line(g, L.l - 19, py, L.l, py, '#111', 4);
    
    
    if (ex < 4) {
      for (let m = 2; m < 10; m++) {
        const mx = X(ex + Math.log10(m)), my = Y(ex + Math.log10(m));
        const a = line(g, mx, L.b, mx, L.b + 10, '#111', 3.5);
        
        
        const b = line(g, L.l - 11, my, L.l, my, '#111', 3.5);
        
        
      }
    }
    const xl = txt(g, '10', px + L.xTen, 1690, { size: 46, fill: '#222', len: L.tenLen });
    
    
    const xe = txt(g, String(ex), px + L.xExp, 1675, { size: 36, fill: '#222', len: 17 });
    
    
    const yl = txt(g, '10', L.yTenX, py + 28, { size: 37, fill: '#222', len: 34, rot: true });
    
    
    const ye = txt(g, String(ex), L.yExpX, py - 13, { size: 40, fill: '#222', len: 20, rot: true });
    
    
  });
}
flowD('flow-d1', [{ rows: densityDPbsCore, x: 0.2, y: 1.6 }], sparseDPbsX, sparseDPbsY, { xPx: [247, 364, 482, 604, 720], yPx: [1625, 1529, 1431, 1331, 1233], l: 243, r: 726, t: 1229, b: 1630, qx: 456, qy: 1452, xTen: -30, xExp: 11, tenLen: 39, yTenX: 212, yExpX: 196 });
flowD('flow-d2', [{ rows: densityDLlcCore, x: 0.4, y: 1.5 }, { rows: densityDLlcUpper, x: 1.8, y: 3.2 }], sparseDLlcX, sparseDLlcY, { xPx: [944, 1059, 1174, 1291, 1407], yPx: [1625, 1529, 1431, 1331, 1233], l: 942, r: 1412, t: 1230, b: 1629, qx: 1148, qy: 1454, xTen: -26, xExp: 8, tenLen: 33, yTenX: 909, yExpX: 894 });

/* ---------- histology stand-ins ---------- */
function clipHalf(poly, nx, ny, c) {
  const out = [];
  for (let i = 0; i < poly.length; i++) {
    const a = poly[i], b = poly[(i + 1) % poly.length];
    const da = nx * a[0] + ny * a[1] - c, db = nx * b[0] + ny * b[1] - c;
    if (da <= 0) out.push(a);
    if ((da < 0 && db > 0) || (da > 0 && db < 0)) {
      const t = da / (da - db);
      out.push([a[0] + (b[0] - a[0]) * t, a[1] + (b[1] - a[1]) * t]);
    }
  }
  return out;
}
function smoothPath(pts) {
  let d = '';
  const n = pts.length;
  pts.forEach(function (p, i) {
    const q = pts[(i + 1) % n];
    const mx = (p[0] + q[0]) / 2, my = (p[1] + q[1]) / 2;
    d += (i === 0 ? 'M' + mx + ' ' + my : 'Q' + p[0] + ' ' + p[1] + ' ' + mx + ' ' + my);
  });
  const p0 = pts[0], m = [(p0[0] + pts[1][0]) / 2, (p0[1] + pts[1][1]) / 2];
  return d + 'Q' + p0[0] + ' ' + p0[1] + ' ' + m[0] + ' ' + m[1] + 'Z';
}
(function () {
  const g = document.getElementById('pbs-inner');
  const wall = 15;
  const cells = mk('g', { filter: 'url(#rough)', fill: '#f3e9e1', stroke: '#f3e9e1', 'stroke-width': 10, 'stroke-linejoin': 'round' }, g);
  
  
  pbsAlveoli.forEach(function (b, i) {
    const rx = b[2] * 1.4 + 10, ry = b[3] * 1.4 + 10;
    const k = 0.7;
    let poly = [[b[0] - rx * k, b[1] - ry], [b[0] + rx * k, b[1] - ry], [b[0] + rx, b[1] - ry * k], [b[0] + rx, b[1] + ry * k], [b[0] + rx * k, b[1] + ry], [b[0] - rx * k, b[1] + ry], [b[0] - rx, b[1] + ry * k], [b[0] - rx, b[1] - ry * k]];
    const ri = (b[2] + b[3]) / 2;
    pbsAlveoli.forEach(function (o, j) {
      if (i === j || !poly.length) return;
      const dx = o[0] - b[0], dy = o[1] - b[1], dist = Math.hypot(dx, dy);
      const rj = (o[2] + o[3]) / 2;
      const nx = dx / dist, ny = dy / dist;
      const t = ri / (ri + rj) * dist;
      poly = clipHalf(poly, nx, ny, nx * b[0] + ny * b[1] + t - wall);
    });
    if (poly.length > 2) {
      const cell = mk('polygon', { points: poly.map(function (p) { return p[0] + ',' + p[1]; }).join(' ') }, cells);
      
      
    }
  });
  const red = mk('path', { d: 'M285 185H750L860 290L840 440L770 520L640 500L520 420L400 400L300 330Z', fill: '#e0366a', filter: 'url(#rough2)' }, g);
  
  
  const lumen = mk('ellipse', { cx: 655, cy: 330, rx: 95, ry: 100, fill: '#f3e9e1', filter: 'url(#rough2)' }, g);
  
  
  const lumen2 = mk('ellipse', { cx: 355, cy: 285, rx: 55, ry: 65, fill: '#f3e9e1', filter: 'url(#rough2)' }, g);
  
  

  const h = document.getElementById('llc-inner');
  const patches = mk('g', { filter: 'url(#rough2)', fill: '#efe8e1' }, h);
  
  
  llcPatches.forEach(function (b) {
    const e = mk('ellipse', { cx: b[0], cy: b[1], rx: b[2] * 1.1, ry: b[3] * 1.1 }, patches);
    
    
  });
  const wallPath = smoothPath(llcWallOutline);
  const ring = mk('path', { d: wallPath, fill: '#d92f68' }, h);
  
  
  const wallClip = mk('clipPath', { id: 'wall-clip' }, h);
  const wallClipShape = mk('path', { d: wallPath }, wallClip);
  
  
  
  
  const wallCells = mk('g', { 'clip-path': 'url(#wall-clip)' }, h);
  
  
  const wallNuclei = mk('rect', { x: 15, y: 25, width: 1290, height: 1150, filter: 'url(#nuclei-wall)', opacity: 0.6 }, wallCells);
  
  
  const lum = mk('path', { d: smoothPath(llcLumenOutline), fill: '#eee8e2', stroke: '#e8406f', 'stroke-width': 14 }, h);
  
  
})();
</script>
</body>
</html>
